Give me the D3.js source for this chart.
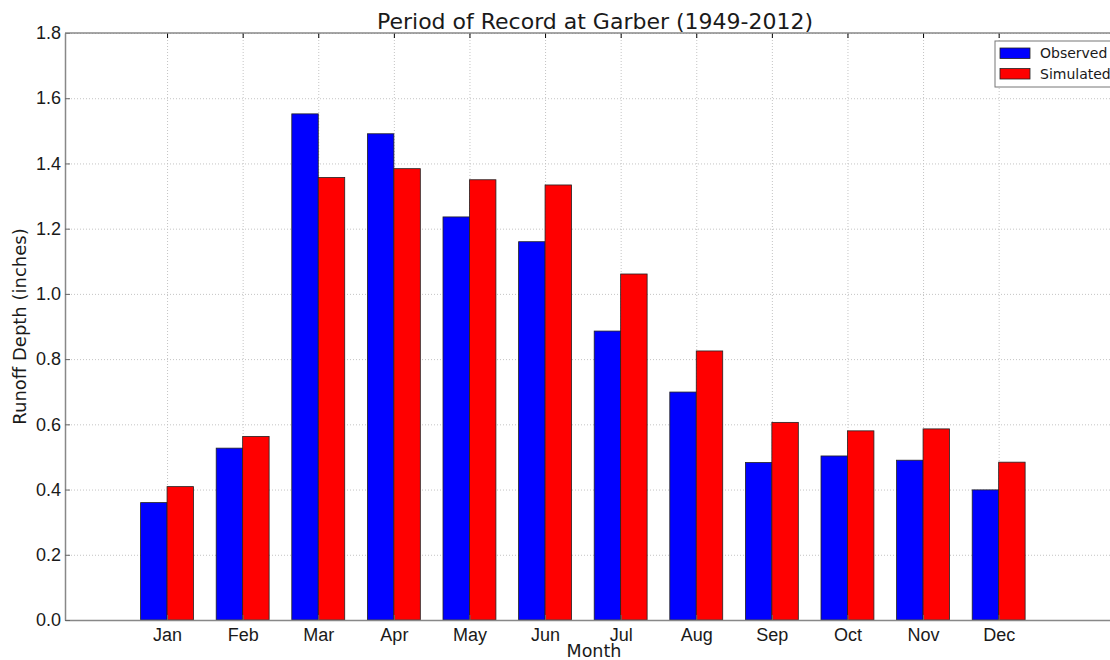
<!DOCTYPE html>
<html>
<head>
<meta charset="utf-8">
<script src="https://cdn.jsdelivr.net/npm/d3@7"></script>
<style>
    html, body { margin: 0; padding: 0; background: #fff; overflow: hidden; }
    svg { display: block; font-family: "DejaVu Sans", sans-serif; }
    .grid line { stroke: #c4c4c4; stroke-dasharray: 1,2; }
    .grid path { display: none; }
</style>
</head>
<body>
<div id="chart"></div>
<script>
const months = ['Jan', 'Feb', 'Mar', 'Apr', 'May', 'Jun', 'Jul', 'Aug', 'Sep', 'Oct', 'Nov', 'Dec'];
const observed = [0.36, 0.527, 1.552, 1.491, 1.236, 1.160, 0.886, 0.699, 0.483, 0.503, 0.490, 0.399];
const simulated = [0.409, 0.563, 1.357, 1.384, 1.350, 1.334, 1.061, 0.825, 0.606, 0.580, 0.586, 0.484];
const yTicks = [0, 0.2, 0.4, 0.6, 0.8, 1.0, 1.2, 1.4, 1.6, 1.8];
const seriesNames = ['Observed', 'Simulated'];
const seriesColors = ['#0000ff', '#ff0000'];

const barWidth = 0.35;

const margin = { top: 33, left: 65, bottom: 40 };
const outerWidth = 1110;
const outerHeight = 660;
const plotWidth = 14 * 75.6;   // x runs from -1 to 13, right part falls off the image
const plotHeight = outerHeight - margin.top - margin.bottom;

const svg = d3.select('#chart')
    .append('svg')
    .attr('width', outerWidth)
    .attr('height', outerHeight);

const main = svg.append('g')
    .attr('transform', `translate(${[margin.left, margin.top]})`);

// scales
const xScale = d3.scaleLinear()
    .domain([-1, 13])
    .range([0, plotWidth]);
const yScale = d3.scaleLinear()
    .domain([0, 1.8])
    .range([plotHeight, 0]);

const tickPos = months.map((m, i) => i + barWidth);

// grid
main.append('g')
    .attr('class', 'grid')
    .attr('transform', `translate(0,${plotHeight})`)
    .call(d3.axisBottom(xScale).tickValues(tickPos).tickSize(-plotHeight).tickFormat(''));
main.append('g')
    .attr('class', 'grid')
    .call(d3.axisLeft(yScale).tickValues(yTicks).tickSize(-plotWidth).tickFormat(''));

// bars
const rows = months.map((m, i) => ({ month: m, i, values: [observed[i], simulated[i]] }));

const groups = main.selectAll('.month')
    .data(rows)
    .enter()
    .append('g')
    .attr('class', 'month');

groups.selectAll('rect')
    .data(d => d.values.map((v, k) => ({ x: d.i + k * barWidth, v, k })))
    .enter()
    .append('rect')
    .attr('x', d => xScale(d.x))
    .attr('width', xScale(barWidth) - xScale(0))
    .attr('y', d => yScale(d.v))
    .attr('height', d => yScale(0) - yScale(d.v))
    .attr('fill', d => seriesColors[d.k])
    .attr('stroke', '#222')
    .attr('stroke-width', 0.8);

// axes
const xAxis = d3.axisBottom(xScale)
    .tickValues(tickPos)
    .tickFormat((d, i) => months[i])
    .tickSizeInner(-5)
    .tickSizeOuter(0)
    .tickPadding(8);
const xAxisG = main.append('g')
    .attr('transform', `translate(0,${plotHeight})`)
    .call(xAxis);

const yAxis = d3.axisLeft(yScale)
    .tickValues(yTicks)
    .tickFormat(d3.format('.1f'))
    .tickSizeInner(-5)
    .tickSizeOuter(0)
    .tickPadding(4);
const yAxisG = main.append('g')
    .call(yAxis);

// top ticks
main.append('g')
    .call(d3.axisTop(xScale).tickValues(tickPos).tickFormat('').tickSizeInner(-5).tickSizeOuter(0))
    .select('.domain').remove();

[xAxisG, yAxisG].forEach(g => {
    g.selectAll('text')
        .attr('font-size', 18)
        .attr('fill', '#1a1a1a');
    g.selectAll('line').attr('stroke', '#666');
    g.select('.domain').attr('stroke', '#888').attr('stroke-width', 1.5);
});
xAxisG.selectAll('text').attr('dy', '0.71em');

// frame top
main.append('line')
    .attr('x1', 0)
    .attr('x2', plotWidth)
    .attr('y1', 0)
    .attr('y2', 0)
    .attr('stroke', '#888')
    .attr('stroke-width', 1.5);

// title and labels
svg.append('text')
    .attr('x', 595)
    .attr('y', 29)
    .attr('text-anchor', 'middle')
    .attr('font-size', 22)
    .attr('fill', '#1a1a1a')
    .text('Period of Record at Garber (1949-2012)');

svg.append('text')
    .attr('x', 594)
    .attr('y', 657)
    .attr('text-anchor', 'middle')
    .attr('font-size', 17.5)
    .attr('fill', '#1a1a1a')
    .text('Month');

svg.append('text')
    .attr('transform', `translate(26,${margin.top + plotHeight / 2}) rotate(-90)`)
    .attr('text-anchor', 'middle')
    .attr('font-size', 18)
    .attr('fill', '#1a1a1a')
    .text('Runoff Depth (inches)');

// legend
const legend = svg.append('g')
    .attr('transform', 'translate(995,41)');
legend.append('rect')
    .attr('width', 124)
    .attr('height', 46)
    .attr('fill', '#fff')
    .attr('stroke', '#777')
    .attr('stroke-width', 1);
const items = legend.selectAll('.item')
    .data(seriesNames)
    .enter()
    .append('g')
    .attr('transform', (d, i) => `translate(5,${7 + i * 20.5})`);
items.append('rect')
    .attr('width', 30)
    .attr('height', 10.5)
    .attr('fill', (d, i) => seriesColors[i])
    .attr('stroke', '#222')
    .attr('stroke-width', 0.8);
items.append('text')
    .attr('x', 40)
    .attr('y', 5.5)
    .attr('dy', '0.35em')
    .attr('font-size', 14)
    .attr('fill', '#1a1a1a')
    .text(d => d);
</script>
</body>
</html>
